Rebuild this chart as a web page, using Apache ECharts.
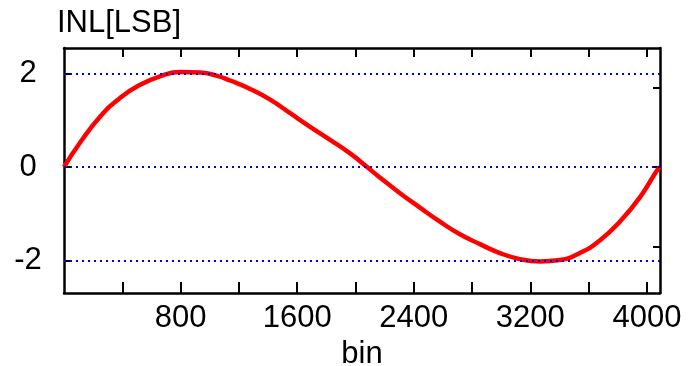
<!DOCTYPE html>
<html>
<head>
<meta charset="utf-8">
<script src="https://cdn.jsdelivr.net/npm/echarts@6/dist/echarts.min.js"></script>
<style>
  html, body { margin: 0; padding: 0; background: #fff; }
  #chart { width: 688px; height: 366px; }
</style>
</head>
<body>
<div id="chart"></div>
<script>
// INL curve
const bins = [0, 112, 249, 386, 523, 660, 797, 935, 1051, 1140, 1277, 1415, 1552, 1689, 1826, 1963,
  2080, 2169, 2306, 2443, 2580, 2717, 2854, 2991, 3129, 3266, 3403, 3540, 3677, 3814, 3952, 4068, 4089];
const inl = [0, 0.53, 1.08, 1.48, 1.76, 1.94, 2.03, 2.02, 1.95, 1.85, 1.67, 1.44, 1.15, 0.86, 0.58, 0.29,
  0.0, -0.23, -0.56, -0.87, -1.17, -1.44, -1.65, -1.84, -1.97, -2.02, -1.99, -1.84, -1.57, -1.17, -0.65, -0.08, 0];

const xTicks = [400, 800, 1200, 1600, 2000, 2400, 2800, 3200, 3600, 4000];
const xLabels = [800, 1600, 2400, 3200, 4000];
const yLabels = [-2, 0, 2];
const rightTicks = [-1.7, 0, 1.7];

const font = 'Liberation Sans, Arial, sans-serif';
const chart = echarts.init(document.getElementById('chart'));

const axisLine = { show: true, onZero: false, lineStyle: { color: '#000', width: 2.5 } };

const option = {
  animation: false,
  title: {
    text: 'INL[LSB]',
    left: 52,
    top: 3,
    textStyle: { fontFamily: font, fontSize: 31, fontWeight: 'normal', color: '#000' }
  },
  grid: { left: 64, right: 28, top: 48, bottom: 73, outerBoundsMode: 'none' },
  xAxis: [
    {
      type: 'value',
      min: 0,
      max: 4090,
      position: 'bottom',
      name: 'bin',
      nameLocation: 'middle',
      nameGap: 43,
      nameTextStyle: { fontFamily: font, fontSize: 31, color: '#000' },
      axisLine: axisLine,
      axisTick: { show: true, inside: true, length: 11, customValues: xTicks, lineStyle: { color: '#000', width: 2 } },
      axisLabel: { customValues: xLabels, margin: 10, fontFamily: font, fontSize: 31, color: '#000', formatter: (v) => String(v) },
      splitLine: { show: false }
    },
    {
      type: 'value',
      min: 0,
      max: 4090,
      position: 'top',
      axisLine: axisLine,
      axisTick: { show: true, inside: true, length: 9, customValues: xTicks, lineStyle: { color: '#000', width: 2 } },
      axisLabel: { show: false },
      splitLine: { show: false }
    }
  ],
  yAxis: [
    {
      type: 'value',
      min: -2.695,
      max: 2.545,
      position: 'left',
      axisLine: axisLine,
      axisTick: { show: true, inside: true, length: 6, customValues: yLabels, lineStyle: { color: '#000', width: 2 } },
      axisLabel: { customValues: yLabels, align: 'center', margin: 36, fontFamily: font, fontSize: 31, color: '#000' },
      splitLine: { show: false }
    },
    {
      type: 'value',
      min: -2.695,
      max: 2.545,
      position: 'right',
      axisLine: axisLine,
      axisTick: { show: true, inside: true, length: 7, customValues: rightTicks, lineStyle: { color: '#000', width: 2 } },
      axisLabel: { show: false },
      splitLine: { show: false }
    }
  ],
  series: [
    {
      type: 'line',
      data: bins.map((b, i) => [b, inl[i]]),
      smooth: 0.5,
      symbol: 'none',
      lineStyle: { color: '#ff0000', width: 4.5 },
      z: 3,
      markLine: {
        silent: true,
        symbol: 'none',
        label: { show: false },
        lineStyle: { color: '#0000ee', type: [2, 4], width: 2 },
        data: yLabels.map((v) => ({ yAxis: v }))
      }
    }
  ]
};

chart.setOption(option);
</script>
</body>
</html>
